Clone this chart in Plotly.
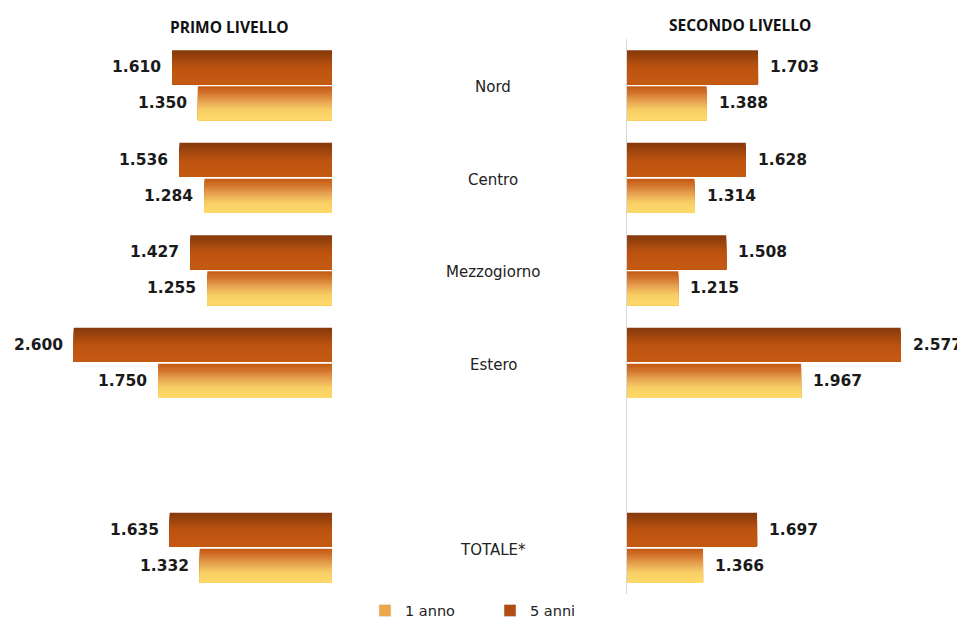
import plotly.graph_objects as go

# ---------------- data ----------------
categories = ["Nord", "Centro", "Mezzogiorno", "Estero", " ", "TOTALE*"]
series_names = ["5 anni", "1 anno"]
primo_5anni = [1610, 1536, 1427, 2600, None, 1635]
primo_1anno = [1350, 1284, 1255, 1750, None, 1332]
secondo_5anni = [1703, 1628, 1508, 2577, None, 1697]
secondo_1anno = [1388, 1314, 1215, 1967, None, 1366]
panel_titles = ["PRIMO LIVELLO", "SECONDO LIVELLO"]

# ---------------- styles ----------------
OFF = 8  # page body margin
W, H = 965 - OFF, 619 - OFF
FONT = "DejaVu Sans"


def px(x):
    return (x - OFF) / W


def py(y):
    return 1 - (y - OFF) / H


stops = {
    "5 anni": [(0.0, (0x84, 0x38, 0x0C)), (0.5, (0xBC, 0x53, 0x10)), (1.0, (0xC5, 0x5A, 0x12))],
    "1 anno": [(0.0, (0xC4, 0x5A, 0x14)), (0.2, (0xD2, 0x74, 0x2C)), (0.45, (0xE8, 0xA4, 0x52)),
               (0.7, (0xF8, 0xCE, 0x64)), (1.0, (0xFF, 0xDA, 0x6A))],
}
legend_color = {"5 anni": "#B24C10", "1 anno": "#EBA54A"}
BAR_W = 0.367
GAP = 0.011
start_off = {"5 anni": -GAP - BAR_W, "1 anno": GAP}
label_shift = {"5 anni": 18, "1 anno": -18}
N_SLICES = 16


def interp(st, t):
    for (t0, c0), (t1, c1) in zip(st[:-1], st[1:]):
        if t0 <= t <= t1:
            f = (t - t0) / (t1 - t0) if t1 > t0 else 0
            c = [round(a + (b - a) * f) for a, b in zip(c0, c1)]
            return "rgb(%d,%d,%d)" % tuple(c)
    return "rgb(%d,%d,%d)" % st[-1][1]


fig = go.Figure()

panels = [
    ("x", "y", {"5 anni": primo_5anni, "1 anno": primo_1anno}),
    ("x2", "y2", {"5 anni": secondo_5anni, "1 anno": secondo_1anno}),
]

for pi, (xa, ya, data) in enumerate(panels):
    for name in series_names:
        vals = data[name]
        for i in range(N_SLICES):
            frac = i / N_SLICES
            fig.add_trace(go.Bar(
                y=categories, x=vals, orientation="h",
                offset=start_off[name] + frac * BAR_W,
                width=BAR_W * (1 - frac),
                marker=dict(color=interp(stops[name], (i + 0.5) / N_SLICES), line=dict(width=0)),
                xaxis=xa, yaxis=ya, showlegend=False, hoverinfo="skip",
            ))
        # value labels
        for cat, v in zip(categories, vals):
            if v is None:
                continue
            fig.add_annotation(
                x=v, y=cat, xref=xa, yref=ya,
                text=f"{v:,}".replace(",", "."),
                showarrow=False,
                xanchor="right" if pi == 0 else "left",
                xshift=-9 if pi == 0 else 10,
                yshift=label_shift[name],
                font=dict(family=FONT, size=15.5, color="#1a1a1a", weight="bold"),
            )

# legend entries
for rank, name in enumerate(["1 anno", "5 anni"]):
    fig.add_trace(go.Bar(
        y=[None], x=[None], orientation="h", name=name,
        marker=dict(color=legend_color[name]), showlegend=True,
        legendrank=rank + 1, xaxis="x", yaxis="y",
    ))

# category labels in the middle
for cat in categories:
    if cat.strip() == "":
        continue
    fig.add_annotation(
        x=px(493), xref="paper", y=cat, yref="y", yshift=-2,
        text=cat, showarrow=False, xanchor="center",
        font=dict(family=FONT, size=15, color="#222222"),
    )

# panel titles
fig.add_annotation(x=px(229), y=py(27), xref="paper", yref="paper", text=panel_titles[0],
                   showarrow=False, xanchor="center", yanchor="middle",
                   font=dict(family="Open Sans", size=15.5, color="#111111", weight="bold"))
fig.add_annotation(x=px(740), y=py(25), xref="paper", yref="paper", text=panel_titles[1],
                   showarrow=False, xanchor="center", yanchor="middle",
                   font=dict(family="Open Sans", size=15.5, color="#111111", weight="bold"))

ydom = [py(594), py(39)]
fig.update_layout(
    width=W, height=H,
    margin=dict(l=0, r=0, t=0, b=0, autoexpand=False),
    paper_bgcolor="white", plot_bgcolor="white",
    barmode="overlay",
    xaxis=dict(domain=[px(34), px(332)], range=[3000, 0], visible=False, fixedrange=True),
    yaxis=dict(domain=ydom, type="category", categoryorder="array", categoryarray=categories,
               range=[5.5, -0.5], visible=False, anchor="x"),
    xaxis2=dict(domain=[px(627), px(937)], range=[900, 2800], showgrid=False, zeroline=False,
                showticklabels=False, ticks="", showline=False, anchor="y2"),
    yaxis2=dict(domain=ydom, type="category", categoryorder="array", categoryarray=categories,
                range=[5.5, -0.5], showgrid=False, zeroline=False, showticklabels=False, ticks="",
                showline=True, linecolor="#D9D9D9", linewidth=1, anchor="x2"),
    legend=dict(orientation="h", x=px(365), xanchor="left", y=py(610.5), yanchor="middle",
                font=dict(family=FONT, size=14.5, color="#222222"), bgcolor="rgba(0,0,0,0)",
                entrywidth=80, entrywidthmode="pixels", itemwidth=30),
    showlegend=True,
)

fig.write_html("out.html")
